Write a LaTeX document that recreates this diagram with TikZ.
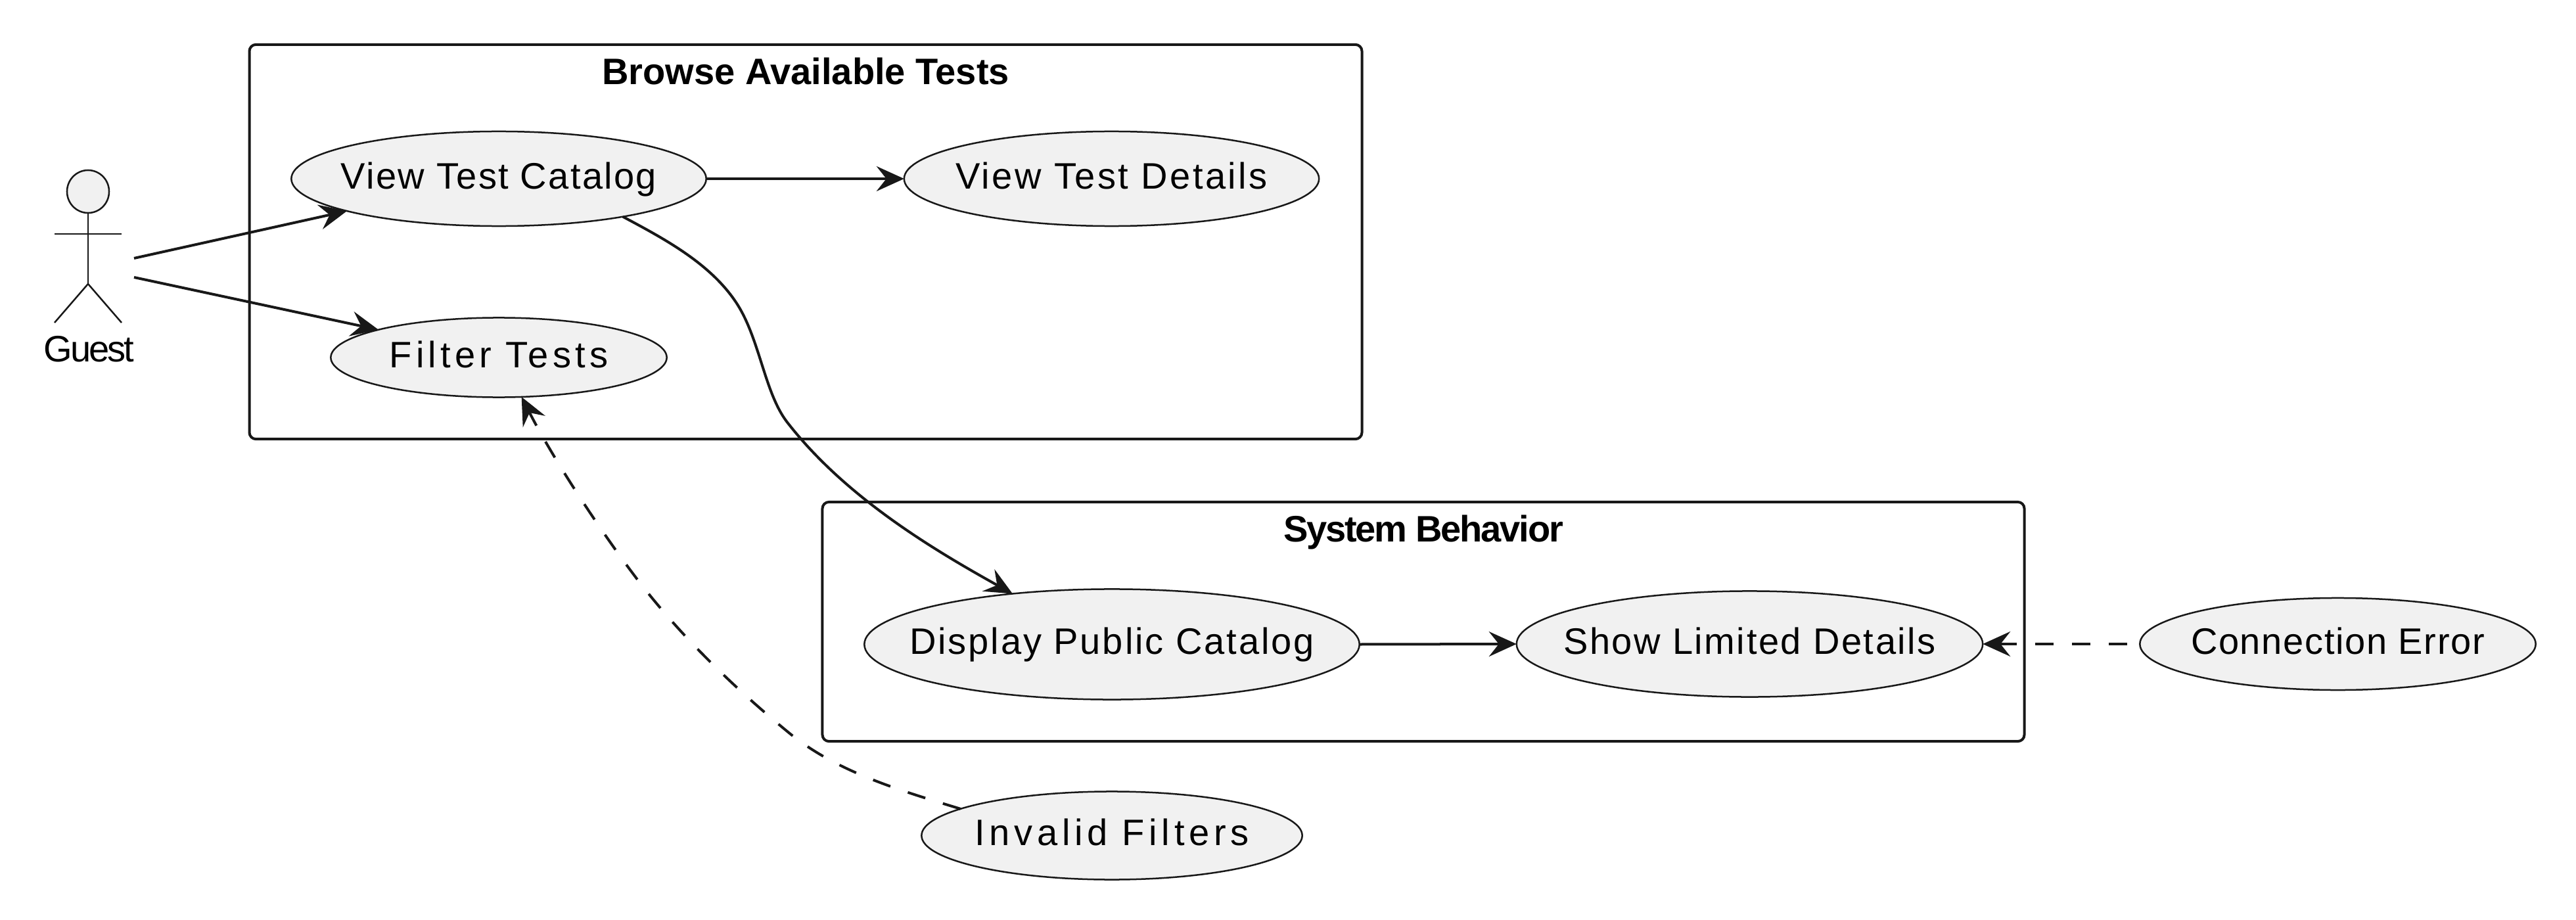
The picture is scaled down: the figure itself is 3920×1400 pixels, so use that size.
\documentclass[tikz,border=0pt]{standalone}
\usepackage{fontspec}
\setmainfont{Liberation Sans}
\usetikzlibrary{arrows.meta,shapes.geometric}
\definecolor{ink}{HTML}{181818}
\definecolor{uc}{HTML}{F1F1F1}
\newcommand\lab[2]{\makebox[0pt]{\addfontfeature{LetterSpace=#1}#2}}
\tikzset{
  ucase/.style={ellipse,draw=ink,fill=uc,line width=0.025cm,inner sep=0pt,outer sep=0pt,
    text=black,text height=0.30cm,text depth=0pt,align=center},
  frame/.style={rectangle,draw=ink,line width=0.04cm,rounded corners=0.1cm,inner sep=0pt,outer sep=0pt,fill=white},
  frametitle/.style={anchor=base,inner sep=0pt,font=\bfseries,text=black},
  conn/.style={draw=ink,line width=0.04cm,-{Stealth[length=0.42cm,width=0.38cm,inset=0.15cm]}},
  dashconn/.style={conn,dash pattern=on 0.28cm off 0.28cm},
  stick/.style={draw=ink,line width=0.025cm}
}
\begin{document}
\begin{tikzpicture}[x=0.01cm,y=-0.01cm,every node/.append style={font=\fontsize{15.93pt}{19pt}\selectfont}]
\useasboundingbox (0,0) rectangle (3920,1400);
% frames
\node[frame,minimum width=16.92cm,minimum height=6cm] (fbrowse) at (1226,368) {};
\node[frame,minimum width=18.28cm,minimum height=3.64cm] (fsystem) at (2166,946) {};
\node[frametitle,font=\fontsize{15.93pt}{19pt}\selectfont\bfseries] (tbrowse) at (1226,128.6) {\lab{0}{Browse Available Tests}};
\node[frametitle,font=\fontsize{15.93pt}{19pt}\selectfont\bfseries] (tsystem) at (2166,824) {\lab{-3.95}{System Behavior}};
% use cases
\node[ucase,minimum width=6.31cm,minimum height=1.44cm] (view) at (759,272) {\lab{4.2}{View Test Catalog}};
\node[ucase,minimum width=6.31cm,minimum height=1.44cm] (details) at (1691.5,272) {\lab{6.3}{View Test Details}};
\node[ucase,minimum width=5.11cm,minimum height=1.21cm] (filter) at (759,544) {\lab{11}{Filter Tests}};
\node[ucase,minimum width=7.53cm,minimum height=1.68cm] (display) at (1692,980.5) {\lab{5.2}{Display Public Catalog}};
\node[ucase,minimum width=7.09cm,minimum height=1.61cm] (show) at (2662.5,980) {\lab{4.6}{Show Limited Details}};
\node[ucase,minimum width=6.02cm,minimum height=1.40cm] (conn) at (3557.5,980) {\lab{3}{Connection Error}};
\node[ucase,minimum width=5.79cm,minimum height=1.34cm] (invalid) at (1692,1271.5) {\lab{12}{Invalid Filters}};
% actor
\node[ellipse,draw=ink,fill=uc,line width=0.025cm,inner sep=0pt,outer sep=0pt,minimum width=0.64cm,minimum height=0.65cm] (head) at (134,291.5) {};
\coordinate (hip) at (134,432);
\coordinate (armL) at (83,356);
\coordinate (armR) at (185,356);
\coordinate (footL) at (83,491);
\coordinate (footR) at (185,491);
\draw[stick] (head.south) -- (hip);
\draw[stick] (armL) -- (armR);
\draw[stick] (footL) -- (hip) -- (footR);
\node[anchor=base,inner sep=0pt,text=black] (guest) at (135.5,550) {\lab{-5.4}{Guest}};
\coordinate (guestA) at (204,393);
\coordinate (guestB) at (204,422);
% connectors
\draw[conn] (guestA) -- (view.192.6);
\draw[conn] (guestB) -- (filter.167.4);
\draw[conn] (view.east) -- (details.west);
\draw[conn] (display.east) -- (show.west);
\draw[conn] (view.-17.4) .. controls (1010,363) and (1080,400) .. (1120,460)
  .. controls (1156,514) and (1163,597) .. (1197.5,642)
  .. controls (1285,755) and (1416,834) .. (display.153.1);
\draw[dashconn] (invalid.170.3) .. controls (1367,1202) and (1271,1174) .. (1198,1113)
  .. controls (1113,1043) and (1030,962) .. (964,874)
  .. controls (904,794) and (838,691) .. (filter.-60.3);
\draw[dashconn,dash phase=0.37cm] (conn.west) -- (show.east);
\end{tikzpicture}
\end{document}
